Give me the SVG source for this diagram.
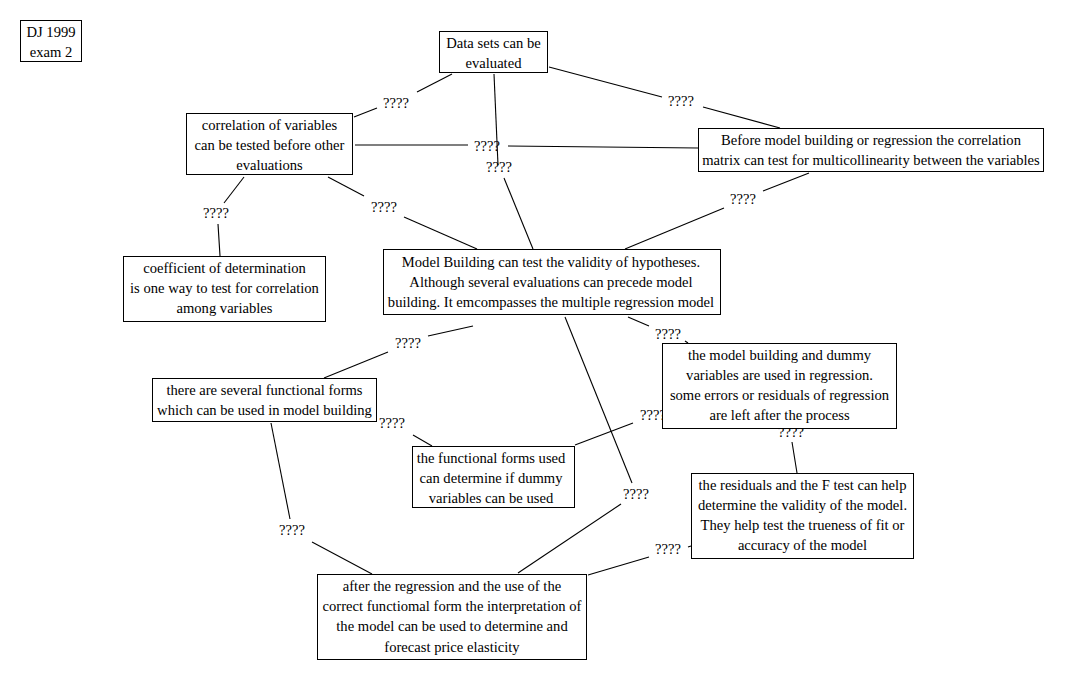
<svg xmlns="http://www.w3.org/2000/svg" width="1081" height="680" viewBox="0 0 1081 680">
<style>
.n rect{fill:#fff;stroke:#000;stroke-width:1}
.n text{font-family:"Liberation Serif","Times New Roman",serif;font-size:14.6px;fill:#000;text-anchor:middle}
#connectors line{stroke:#000;stroke-width:1.1;fill:none}
#connectors text{font-family:"Liberation Serif","Times New Roman",serif;font-size:14.6px;fill:#000;text-anchor:middle}
</style>
<rect width="1081" height="680" fill="#fff"/>
<g id="connectors">
<line x1="452" y1="74" x2="417" y2="92"/><line x1="377" y1="108" x2="354" y2="117"/><text x="396" y="108">????</text>
<line x1="355" y1="145" x2="468" y2="145"/><line x1="508" y1="146" x2="698" y2="148"/><text x="487" y="151">????</text>
<line x1="494" y1="74" x2="498" y2="165"/><line x1="504" y1="178" x2="533" y2="249"/><text x="499" y="172">????</text>
<line x1="244" y1="177" x2="224" y2="203"/><line x1="218" y1="224" x2="220" y2="256"/><text x="216" y="218">????</text>
<line x1="328" y1="177" x2="364" y2="196"/><line x1="404" y1="217" x2="477" y2="249"/><text x="384" y="212">????</text>
<line x1="809" y1="173" x2="763" y2="191"/><line x1="724" y1="208" x2="625" y2="249"/><text x="743" y="204">????</text>
<line x1="549" y1="67" x2="662" y2="97"/><line x1="703" y1="107" x2="780" y2="128"/><text x="681" y="106">????</text>
<line x1="473" y1="326" x2="428" y2="336"/><line x1="388" y1="352" x2="324" y2="378"/><text x="408" y="348">????</text>
<line x1="628" y1="317" x2="649" y2="326"/><line x1="685" y1="341" x2="688" y2="343"/><text x="668" y="338.5">????</text>
<line x1="565" y1="317" x2="632" y2="483"/><line x1="621" y1="504" x2="518" y2="573"/><text x="636" y="498.5">????</text>
<line x1="792" y1="442" x2="797" y2="473"/><text x="791" y="437">????</text>
<line x1="633" y1="423" x2="575" y2="445"/><text x="653" y="420">????</text>
<line x1="413" y1="435" x2="432" y2="446"/><text x="392" y="428">????</text>
<line x1="271" y1="423" x2="290" y2="519"/><line x1="312" y1="542" x2="372" y2="574"/><text x="292" y="535">????</text>
<line x1="688" y1="547" x2="691" y2="546"/><line x1="649" y1="557" x2="588" y2="575"/><text x="668" y="553.5">????</text>
</g>
<g id="n-dj" class="n"><rect x="20.5" y="20.5" width="61" height="41"/><text x="51" y="36.5">DJ 1999</text><text x="51" y="56.5">exam 2</text></g>
<g id="n-data" class="n"><rect x="439.5" y="31.5" width="108" height="41"/><text x="493.5" y="47.5">Data sets can be</text><text x="493.5" y="67.5">evaluated</text></g>
<g id="n-corr" class="n"><rect x="186.5" y="113.5" width="166" height="61"/><text x="269.5" y="129.5">correlation of variables</text><text x="269.5" y="149.5">can be tested before other</text><text x="269.5" y="169.5">evaluations</text></g>
<g id="n-before" class="n"><rect x="698.5" y="128.5" width="345" height="43"/><text x="871" y="144.5">Before model building or regression the correlation</text><text x="871" y="164.5">matrix can test for multicollinearity between the variables</text></g>
<g id="n-coef" class="n"><rect x="123.5" y="256.5" width="202" height="65"/><text x="224.5" y="273">coefficient of determination</text><text x="224.5" y="293">is one way to test for correlation</text><text x="224.5" y="313">among variables</text></g>
<g id="n-model" class="n"><rect x="383.5" y="249.5" width="337" height="65"/><text x="551" y="266.5">Model Building can test the validity of hypotheses.</text><text x="551" y="286.5">Although several evaluations can precede model</text><text x="551" y="306.5">building. It emcompasses the multiple regression model</text></g>
<g id="n-dummy" class="n"><rect x="662.5" y="343.5" width="234" height="85"/><text x="779.5" y="359.5">the model building and dummy</text><text x="779.5" y="379.5">variables are used in regression.</text><text x="779.5" y="399.5">some errors or residuals of regression</text><text x="779.5" y="419.5">are left after the process</text></g>
<g id="n-resid" class="n"><rect x="691.5" y="473.5" width="222" height="85"/><text x="802.5" y="490">the residuals and the F test can help</text><text x="802.5" y="510">determine the validity of the model.</text><text x="802.5" y="530">They help test the trueness of fit or</text><text x="802.5" y="550">accuracy of the model</text></g>
<g id="n-forms" class="n"><rect x="152.5" y="378.5" width="224" height="43"/><text x="264.5" y="394.5">there are several functional forms</text><text x="264.5" y="414.5">which can be used in model building</text></g>
<g id="n-used" class="n"><rect x="412.5" y="446.5" width="162" height="61"/><text x="491" y="462.5">the functional forms used</text><text x="491" y="482.5">can determine if dummy</text><text x="491" y="502.5">variables can be used</text></g>
<g id="n-after" class="n"><rect x="317.5" y="574.5" width="269" height="85"/><text x="452" y="591">after the regression and the use of the</text><text x="452" y="611">correct functiomal form the interpretation of</text><text x="452" y="631">the model can be used to determine and</text><text x="452" y="651.5">forecast price elasticity</text></g>
</svg>
